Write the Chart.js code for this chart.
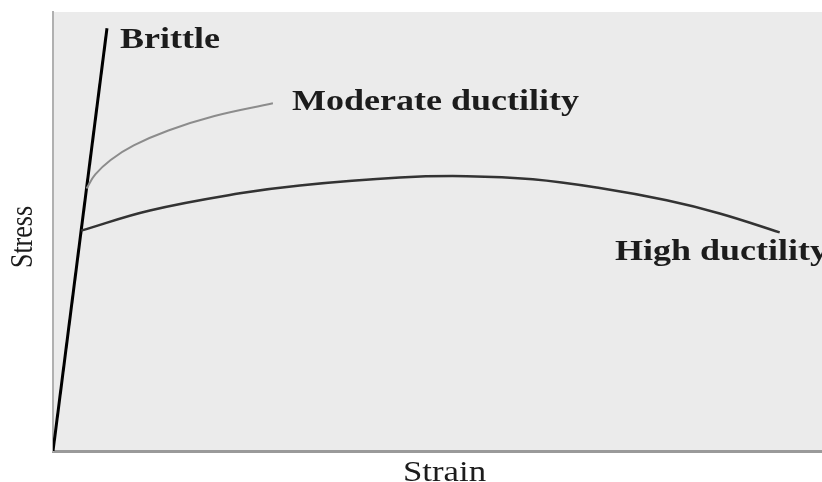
<!DOCTYPE html>
<html>
<head>
<meta charset="utf-8">
<script src="https://cdn.jsdelivr.net/npm/chart.js@4.4.0/dist/chart.umd.min.js"></script>
<style>
  html, body { margin: 0; padding: 0; background: #ffffff; }
  #wrap { width: 822px; height: 482px; }
</style>
</head>
<body>
<div id="wrap"><canvas id="c" width="822" height="482"></canvas></div>
<script>
// ---- data (arbitrary strain / stress units 0-100) ----
const brittleStrain  = [0, 7.02];
const brittleStress  = [0, 96.3];

const moderateStrain = [4.36, 5.5, 7.5, 10.5, 15.0, 21.0, 28.6];
const moderateStress = [59.8, 63.0, 66.3, 69.6, 73.0, 76.3, 79.2];

const highStrain     = [3.66, 12.6, 24.3, 32.1, 45.1, 53.8, 62.4, 71.1, 79.8, 86.7, 94.5];
const highStress     = [50.2, 54.8, 58.7, 60.5, 62.3, 62.6, 61.9, 59.9, 57.1, 54.1, 49.8];

const seriesNames = ["Brittle", "Moderate ductility", "High ductility"];
const xTitle = "Strain";
const yTitle = "Stress";

function pts(xs, ys) { return xs.map((x, i) => ({ x: x, y: ys[i] })); }

const bgPlugin = {
  id: 'bg',
  beforeDraw(chart) {
    const { ctx, chartArea: a } = chart;
    ctx.save();
    ctx.fillStyle = '#ebebeb';
    ctx.fillRect(a.left, a.top, a.right - a.left, a.bottom - a.top);
    ctx.restore();
  }
};

function stretchText(ctx, text, x, y, sx, align) {
  ctx.save();
  ctx.translate(x, y);
  ctx.scale(sx, 1);
  ctx.textAlign = align || 'left';
  ctx.fillText(text, 0, 0);
  ctx.restore();
}

const labelPlugin = {
  id: 'labels',
  afterDraw(chart) {
    const { ctx, chartArea: a } = chart;
    ctx.save();
    ctx.fillStyle = '#1c1c1c';
    ctx.textBaseline = 'alphabetic';
    ctx.font = 'bold 30px "Liberation Serif"';
    stretchText(ctx, seriesNames[0], a.left + 67, a.top + 36, 1.2);
    stretchText(ctx, seriesNames[1], a.left + 239, a.top + 98, 1.2);
    stretchText(ctx, seriesNames[2], a.left + 562, a.top + 248, 1.2);

    // axis titles
    ctx.font = '29px "Liberation Serif"';
    stretchText(ctx, xTitle, (a.left + a.right) / 2 + 7, a.bottom + 30, 1.2, 'center');

    ctx.save();
    ctx.translate(24, 237);
    ctx.scale(1.2, 1);
    ctx.rotate(-Math.PI / 2);
    ctx.font = '26px "Liberation Serif"';
    ctx.textAlign = 'center';
    ctx.textBaseline = 'middle';
    ctx.fillText(yTitle, 0, 0);
    ctx.restore();
    ctx.restore();
  }
};

new Chart(document.getElementById('c'), {
  type: 'scatter',
  data: {
    datasets: [
      { label: seriesNames[1], data: pts(moderateStrain, moderateStress), showLine: true,
        borderColor: '#8c8c8c', borderWidth: 2, pointRadius: 0, tension: 0.4 },
      { label: seriesNames[2], data: pts(highStrain, highStress), showLine: true,
        borderColor: '#333333', borderWidth: 2.5, pointRadius: 0, tension: 0.4 },
      { label: seriesNames[0], data: pts(brittleStrain, brittleStress), showLine: true,
        borderColor: '#000000', borderWidth: 3, pointRadius: 0 }
    ]
  },
  options: {
    responsive: false,
    animation: false,
    layout: { padding: { left: 53, top: 12, right: 0, bottom: 31 } },
    plugins: { legend: { display: false }, tooltip: { enabled: false } },
    scales: {
      x: { type: 'linear', min: 0, max: 100,
           grid: { display: false, drawTicks: false },
           border: { display: true, color: '#9a9a9a', width: 3 },
           ticks: { display: false } },
      y: { type: 'linear', min: 0, max: 100,
           grid: { display: false, drawTicks: false },
           border: { display: true, color: '#b0b0b0', width: 2 },
           ticks: { display: false } }
    }
  },
  plugins: [bgPlugin, labelPlugin]
});
</script>
</body>
</html>
